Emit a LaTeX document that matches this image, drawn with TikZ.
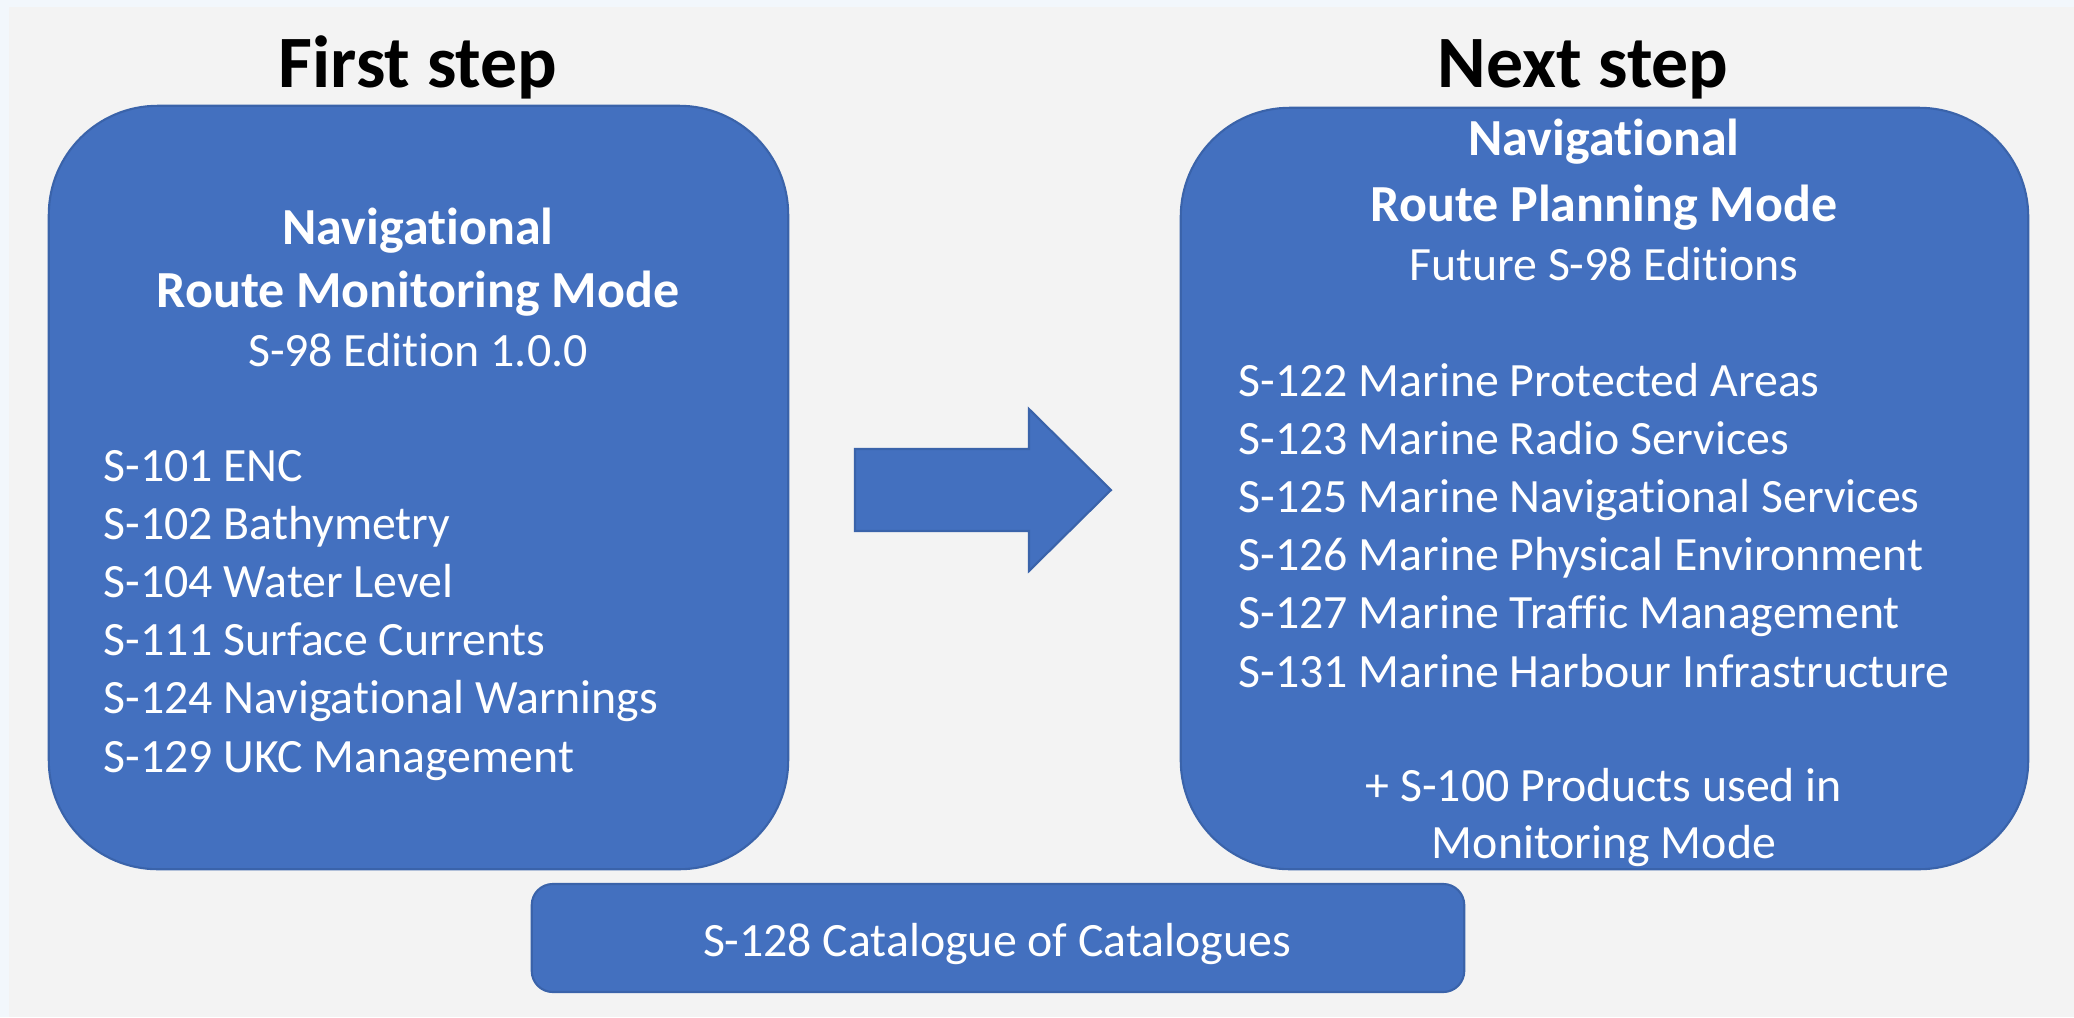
\documentclass[tikz,border=0pt]{standalone}
\usepackage{fontspec}
\setmainfont[Ligatures={NoCommon,NoContextual}]{Carlito}

\definecolor{boxblue}{HTML}{4370BF}
\definecolor{boxline}{HTML}{3A63AA}
\definecolor{bggray}{HTML}{F3F3F3}
\definecolor{rimblue}{HTML}{F2F7FC}

\begin{document}
\begin{tikzpicture}[x=0.01cm,y=-0.01cm,
        panel/.style={fill=boxblue,draw=boxline,line width=0.6pt,rounded corners=31pt,inner sep=0pt},
        steptitle/.style={font=\fontsize{21}{25}\selectfont\bfseries,anchor=base},
        head/.style={text=white,font=\fontsize{14.8}{18}\selectfont\bfseries,anchor=base},
        sub/.style={text=white,font=\fontsize{13.6}{16}\selectfont,anchor=base},
        item/.style={text=white,font=\fontsize{13.6}{16}\selectfont,anchor=base west,inner sep=0pt}]
        \fill[rimblue] (0,0) rectangle (2074,1017);
        \fill[bggray] (9,7) rectangle (2074,1017);
        \useasboundingbox (0,0) rectangle (2074,1017);

        \node[steptitle] (firsttitle) at (418,87) {First step};
        \node[steptitle] (nexttitle) at (1583,87) {Next step};

        \node[panel,minimum width=7.39cm,minimum height=7.63cm] (firstpanel) at (418.5,487.5) {};
        \node[panel,minimum width=8.47cm,minimum height=7.61cm] (nextpanel) at (1604.5,488.5) {};
        \node[panel,rounded corners=6pt,minimum width=9.32cm,minimum height=1.08cm] (catpanel) at (998,938) {};

        \fill[boxblue,draw=boxline,line width=0.6pt] (855,449) -- (1029,449) -- (1029,409) -- (1111,490)
            -- (1029,571) -- (1029,531) -- (855,531) -- cycle;

        \node[head] (monnav) at (418,244) {Navigational};
        \node[head] (monmode) at (418,307.5) {Route Monitoring Mode};
        \node[sub] (monedition) at (418,366) {S-98 Edition 1.0.0};
        \foreach \txt [count=\i] in {S-101 ENC,S-102 Bathymetry,S-104 Water Level,
            S-111 Surface Currents,S-124 Navigational Warnings,S-129 UKC Management}
            \node[item] (mon\i) at (103,{481+(\i-1)*58.2}) {\txt};

        \node[head] (plannav) at (1604,155) {Navigational};
        \node[head] (planmode) at (1604,221.5) {Route Planning Mode};
        \node[sub] (planedition) at (1604,280) {Future S-98 Editions};
        \foreach \txt [count=\i] in {S-122 Marine Protected Areas,S-123 Marine Radio Services,
            S-125 Marine Navigational Services,S-126 Marine Physical Environment,
            S-127 Marine Traffic Management,S-131 Marine Harbour Infrastructure}
            \node[item] (plan\i) at (1238,{396+(\i-1)*58.2}) {\txt};
        \node[sub] (planplus) at (1604,801) {+ S-100 Products used in};
        \node[sub] (planmon) at (1604,858) {Monitoring Mode};

        \node[sub] (cattext) at (997,956) {S-128 Catalogue of Catalogues};
    \end{tikzpicture}
\end{document}
